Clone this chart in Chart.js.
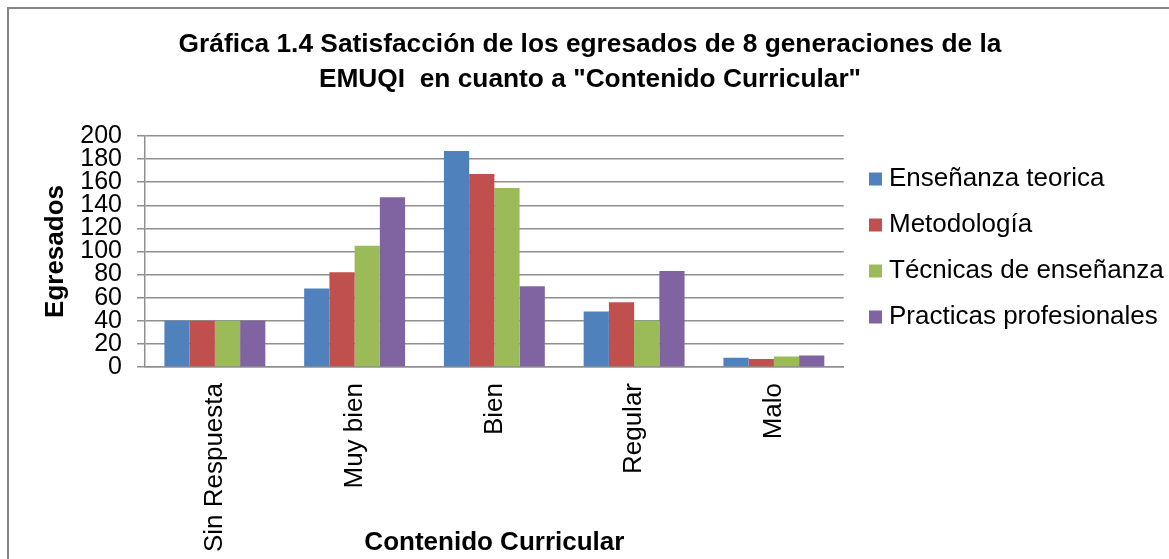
<!DOCTYPE html>
<html>
<head>
<meta charset="utf-8">
<script src="https://cdn.jsdelivr.net/npm/chart.js@4.4.1/dist/chart.umd.min.js"></script>
<style>
  html, body { margin: 0; padding: 0; background: #fff; overflow: hidden; }
  #frame { position: absolute; left: 7px; top: 7px; width: 1300px; height: 700px;
           border-left: 2px solid #858585; border-top: 2px solid #858585; }
  #wrap { position: absolute; left: 0; top: 0; width: 1169px; height: 559px; }
</style>
</head>
<body>
<div id="frame"></div>
<div id="wrap"><canvas id="c" width="1169" height="559"></canvas></div>
<script>
const categories = ["Sin Respuesta", "Muy bien", "Bien", "Regular", "Malo"];
const seriesNames = ["Enseñanza teorica", "Metodología", "Técnicas de enseñanza", "Practicas profesionales"];
const ensenanzaTeorica = [40, 68, 187, 48, 8];
const metodologia = [40, 82, 167, 56, 7];
const tecnicasEnsenanza = [40, 105, 155, 40, 9];
const practicasProfesionales = [40, 147, 70, 83, 10];
const seriesColors = ["#4F81BD", "#C0504D", "#9BBB59", "#8064A2"];
const titleLines = ["Gráfica 1.4 Satisfacción de los egresados de 8 generaciones de la", "EMUQI  en cuanto a \"Contenido Curricular\""];
const xTitle = "Contenido Curricular";
const yTitle = "Egresados";

const FONT = "'Liberation Sans', Arial, sans-serif";
const seriesValues = [ensenanzaTeorica, metodologia, tecnicasEnsenanza, practicasProfesionales];

const adjust = {
  id: 'adjust',
  afterLayout(chart) {
    const lg = chart.legend;
    if (lg) {
      lg.left = 855; lg.right = 1169;
      lg.top -= 3.5; lg.bottom -= 3.5;
    }
    const tb = chart.titleBlock;
    if (tb) { tb.left = 20; tb.right = 1160; }
  }
};

new Chart(document.getElementById('c'), {
  type: 'bar',
  data: {
    labels: categories,
    datasets: seriesValues.map((vals, i) => ({
      label: seriesNames[i],
      data: vals,
      backgroundColor: seriesColors[i],
      borderWidth: 0,
      categoryPercentage: 0.722,
      barPercentage: 1.0
    }))
  },
  options: {
    responsive: false,
    animation: false,
    layout: { padding: { left: 0, right: 44, top: 0, bottom: 0 } },
    plugins: {
      title: {
        display: true,
        text: titleLines,
        color: '#000',
        font: { family: FONT, size: 26.3, weight: 'bold', lineHeight: 1.315 },
        padding: { top: 27.4, bottom: 39.4 }
      },
      legend: {
        display: true,
        position: 'right',
        fullSize: false,
        align: 'center',
        labels: {
          color: '#000',
          font: { family: FONT, size: 26 },
          usePointStyle: true,
          pointStyle: 'rect',
          boxWidth: 1,
          boxHeight: 13,
          padding: 20
        }
      },
      tooltip: { enabled: false }
    },
    scales: {
      x: {
        grid: { display: false, drawTicks: false },
        border: { display: true, color: '#8f8f8f', width: 1.5 },
        ticks: {
          color: '#000',
          font: { family: FONT, size: 26 },
          minRotation: 90, maxRotation: 90,
          padding: 16,
          autoSkip: false
        },
        title: {
          display: true, text: xTitle, color: '#000',
          font: { family: FONT, size: 26, weight: 'bold' },
          padding: { top: 0, bottom: 0.4 }
        },
        afterFit(scale) { scale.height = 192; }
      },
      y: {
        min: 0, max: 200,
        grid: { color: '#8f8f8f', lineWidth: 1.5, tickLength: 8, drawTicks: true },
        border: { display: true, color: '#8f8f8f', width: 1.5 },
        ticks: {
          stepSize: 20, autoSkip: false, color: '#000',
          font: { family: FONT, size: 25, lineHeight: 1 },
          padding: 15
        },
        title: {
          display: true, text: yTitle, color: '#000',
          font: { family: FONT, size: 26, weight: 'bold' },
          padding: { top: 40.4, bottom: 0 }
        },
        afterFit(scale) { scale.width = 145; }
      }
    }
  },
  plugins: [adjust]
});
</script>
</body>
</html>
